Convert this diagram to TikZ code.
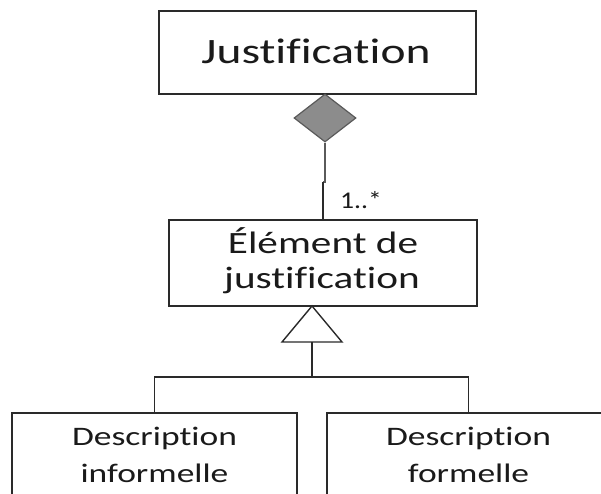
\documentclass[tikz,border=0pt]{standalone}
\usepackage{fontspec}
\usetikzlibrary{shapes.geometric}
\newfontfamily\calwide[FakeStretch=1.33,Ligatures=NoCommon]{Carlito}
\newfontfamily\calmid[FakeStretch=1.15,Ligatures=NoCommon]{Carlito}
\definecolor{ink}{HTML}{1A1A1A}
\definecolor{edge}{HTML}{2A2A2A}
\definecolor{dfill}{HTML}{8C8C8C}
\definecolor{dline}{HTML}{5A5A5A}
\begin{document}
\begin{tikzpicture}[x=1pt,y=-1pt,
  box/.style={draw=edge,line width=1.6pt,inner sep=0pt,fill=none},
  txt/.style={inner sep=0pt,anchor=base,text=ink},
  conn/.style={draw=edge,line width=1.6pt},
  conngray/.style={draw=dline,line width=1.6pt}]
\useasboundingbox[fill=white] (0,0) rectangle (601,493);
% boxes
\node[box,minimum width=317pt,minimum height=83pt] (just) at (317.5,52.5) {};
\node[box,minimum width=308pt,minimum height=86pt] (el) at (323,263) {};
\node[box,minimum width=285pt,minimum height=110pt] (lb) at (154.5,468) {};
\node[box,minimum width=283pt,minimum height=110pt] (rb) at (468.5,468) {};
% texts
\node[txt] (tjust) at (316,63) {\calwide\fontsize{35.7}{40}\selectfont Justification};
\node[txt] (tel1) at (323,253) {\calwide\fontsize{31}{35}\selectfont Élément de};
\node[txt] (tel2) at (322,288) {\calwide\fontsize{31}{35}\selectfont justification};
\node[txt] (tlb1) at (154.5,445) {\calwide\fontsize{26.7}{30}\selectfont Description};
\node[txt] (tlb2) at (154.5,482) {\calwide\fontsize{26.7}{30}\selectfont informelle};
\node[txt] (trb1) at (468.5,445) {\calwide\fontsize{26.7}{30}\selectfont Description};
\node[txt] (trb2) at (468.5,482) {\calwide\fontsize{26.7}{30}\selectfont formelle};
% aggregation diamond
\node[diamond,draw=dline,fill=dfill,line width=1.2pt,inner sep=0pt,
  minimum width=62pt,minimum height=48pt] (dia) at (325,118) {};
\coordinate (jog) at (323,182);
\draw[conngray] (dia.south) -- (dia.south |- jog) -- (jog);
\draw[conn] (jog) -- (jog |- el.north);
\node[txt,anchor=base west] (mult) at (340,208) {\calmid\fontsize{24}{28}\selectfont 1..*};
% generalization triangle
\coordinate (apex) at (312,306);
\coordinate (tl) at (282,342);
\coordinate (tr) at (342,342);
\coordinate (tb) at (312,342);
\coordinate (bus) at (312,377);
\draw[draw=edge,line width=1.4pt,fill=white,line join=miter] (apex) -- (tr) -- (tl) -- cycle;
\draw[conn] (tb) -- (bus);
\draw[conn] (lb.north) |- (bus) -| (rb.north);
\end{tikzpicture}
\end{document}
